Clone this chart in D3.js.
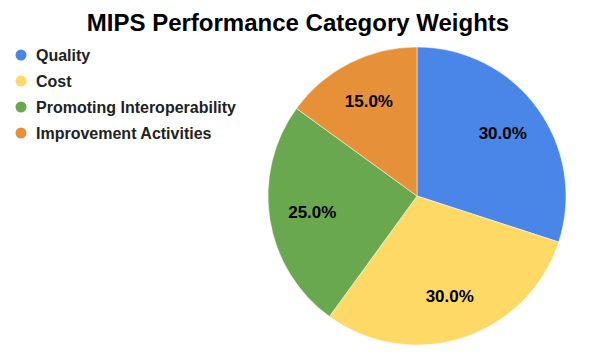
<!DOCTYPE html>
<html><head><meta charset="utf-8">
<script src="https://cdn.jsdelivr.net/npm/d3@7"></script>
<style>body{margin:0;background:#fff}svg{display:block}</style>
</head><body>
<svg id="c" width="591" height="357"></svg>
<script>
const categories = ["Quality", "Cost", "Promoting Interoperability", "Improvement Activities"];
const values = [30, 30, 25, 15];
const colors = ["#4A86E8", "#FFD966", "#6AA84F", "#E69138"];

const svg = d3.select("#c");
const font = "Arial, 'Liberation Sans', sans-serif";

svg.append("text").attr("x", 298).attr("y", 31).attr("text-anchor", "middle")
  .style("font-family", font).style("font-weight", "bold").style("font-size", "24px")
  .attr("fill", "#000").text("MIPS Performance Category Weights");

const data = categories.map((c, i) => ({cat: c, value: values[i], color: colors[i]}));
const cx = 417, cy = 196, r = 149;
const pie = d3.pie().value(d => d.value).sort(null);
const arc = d3.arc().innerRadius(0).outerRadius(r);
const labelArc = d3.arc().innerRadius(106).outerRadius(106);
const total = d3.sum(values);
const g = svg.append("g").attr("transform", `translate(${cx},${cy})`);
const arcs = pie(data);
g.selectAll("path").data(arcs).join("path").attr("d", arc).attr("fill", d => d.data.color)
  .attr("stroke", "#fff").attr("stroke-width", 0.5);
g.selectAll("text").data(arcs).join("text")
  .attr("transform", d => `translate(${labelArc.centroid(d)})`)
  .attr("text-anchor", "middle").attr("dominant-baseline", "central")
  .style("font-family", font).style("font-weight", "bold").style("font-size", "17px")
  .attr("fill", "#000").text(d => (d.data.value / total * 100).toFixed(1) + "%");

const leg = svg.append("g");
const items = leg.selectAll("g").data(data).join("g")
  .attr("transform", (d, i) => `translate(21,${55 + i * 26})`);
items.append("circle").attr("r", 5.5).attr("fill", d => d.color);
items.append("text").attr("x", 15).attr("dy", "0.35em")
  .style("font-family", font).style("font-weight", "bold").style("font-size", "16px")
  .attr("fill", "#222").text(d => d.cat);
</script>
</body></html>
